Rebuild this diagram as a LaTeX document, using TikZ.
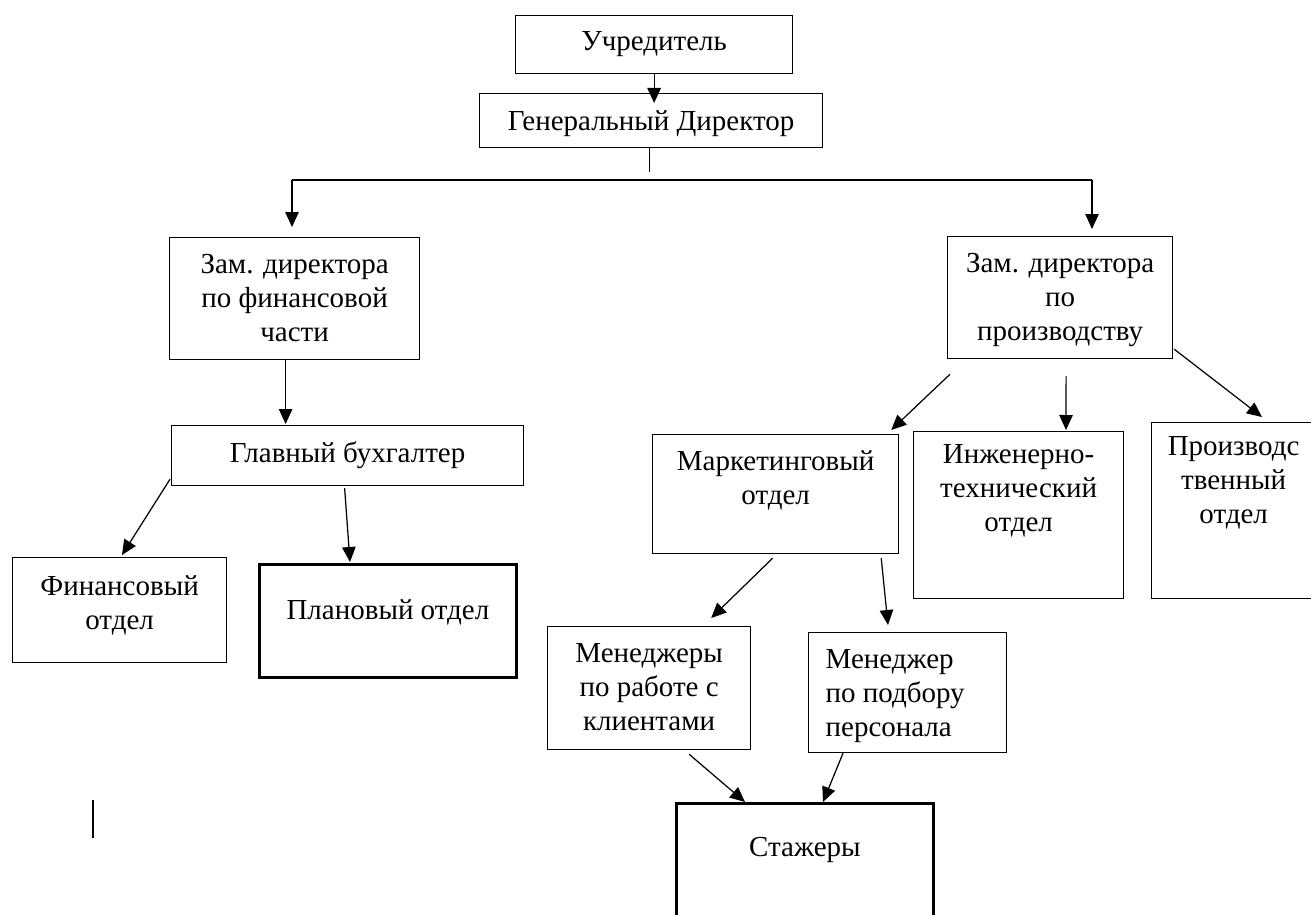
\documentclass[tikz,border=0pt]{standalone}
\usepackage{fontspec}
\setmainfont{Liberation Serif}
\usetikzlibrary{arrows.meta,calc}
\newdimen\px \px=0.02cm

\begin{document}
\begin{tikzpicture}[x=0.02cm, y=-0.02cm, line width=0.7pt,
    every node/.style={font=\fontsize{16.5}{19.3}\selectfont},
    box/.style={draw, rectangle, anchor=north west, inner sep=0pt},
    spessa/.style={box, line width=1.6pt},
    freccia/.style={-{Triangle[length=0.3cm, width=0.27cm]}}]

    \useasboundingbox (0,0) rectangle (1311,915);

    % Testo del riquadro: larghezza, altezza, spazio sopra, testo
    \def\testo#1#2#3#4{\parbox[t][#2\px][t]{#1\px}{\centering\vspace*{#3\px}\strut #4}}

    % -- Vertice: fondatore e direttore --
    \node[box] (uchr) at (515,15) {\testo{277}{58}{11}{Учредитель}};
    \node[box] (gendir) at (479,93) {\testo{343}{54}{13}{Генеральный Директор}};

    \draw[freccia] (uchr.south) -- ($(uchr.south |- gendir.north)+(0,10)$);

    % Linea di distribuzione
    \coordinate (sx) at (292,180);
    \coordinate (dx) at (1092,180);
    \draw ($(gendir.south)+(-1.5,0)$) -- ++(0,24);
    \draw (sx) -- (dx);

    % -- Ramo sinistro: parte finanziaria --
    \node[box] (zamfin) at (169,237) {\testo{250}{122}{12}{Зам. директора\\по финансовой\\части}};
    \node[box] (glbuh) at (171,425) {\testo{352}{60}{13}{Главный бухгалтер}};
    \node[box] (fin) at (12,557) {\testo{214}{105}{14}{Финансовый\\отдел}};
    \node[spessa] (plan) at (258,563) {\testo{257}{113}{31}{Плановый отдел}};

    \draw[freccia] (sx) -- ($(sx |- zamfin.north)+(0,-10)$);
    \draw[freccia] ($(zamfin.south)+(-9,0)$) -- ($(zamfin.south |- glbuh.north)+(-9,-1)$);
    \draw[freccia] ($(glbuh.south west)+(-1,-7)$) -- ($(fin.north west)+(110,-2)$);
    \draw[freccia] ($(glbuh.south)+(-3,2)$) -- ($(plan.north west)+(92,-1)$);

    % -- Ramo destro: produzione --
    \node[box] (zamprod) at (947,236) {\testo{225}{122}{12}{Зам. директора\\по\\производству}};
    \node[box] (market) at (652,434) {\testo{246}{119}{12}{Маркетинговый\\отдел}};
    \node[box] (inzh) at (913,431) {\testo{210}{167}{8}{Инженерно-\\технический\\отдел}};
    \node[box] (proizv) at (1151,422) {\testo{164}{176}{9}{Производс\\твенный\\отдел}};

    \draw[freccia] (dx) -- ($(dx |- zamprod.north)+(0,-7)$);
    \draw[freccia] ($(zamprod.south west)+(3,15)$) -- ($(market.north east)+(-8,-4)$);
    \draw[freccia] ($(zamprod.south)+(6,17)$) -- ($(inzh.north west)+(153,-1)$);
    \draw[freccia] ($(zamprod.south east)+(1,-10)$) -- ($(proizv.north west)+(111,-5)$);

    % -- Manager e tirocinanti --
    \node[box] (menkl) at (547,626) {\testo{203}{123}{12}{Менеджеры\\по работе с\\клиентами}};
    \node[box] (menpod) at (808,632) {\parbox[t][120\px][t]{198\px}{\raggedright\leftskip=17\px\vspace*{12\px}\strut Менеджер\\по подбору\\персонала}};
    \node[spessa] (stazh) at (675,802) {\testo{257}{130}{29}{Стажеры}};

    \draw[freccia] ($(market.south)+(-3,4)$) -- ($(menkl.north east)+(-40,-8)$);
    \draw[freccia] ($(market.south east)+(-18,4)$) -- ($(menpod.north west)+(80,-7)$);
    \draw[freccia] ($(menkl.south)+(40,4)$) -- ($(stazh.north west)+(70,0)$);
    \draw[freccia] ($(menpod.south west)+(35,0)$) -- ($(stazh.north west)+(148,0)$);

    % tratto isolato a sinistra
    \draw (93,800) -- (93,838);
\end{tikzpicture}
\end{document}
